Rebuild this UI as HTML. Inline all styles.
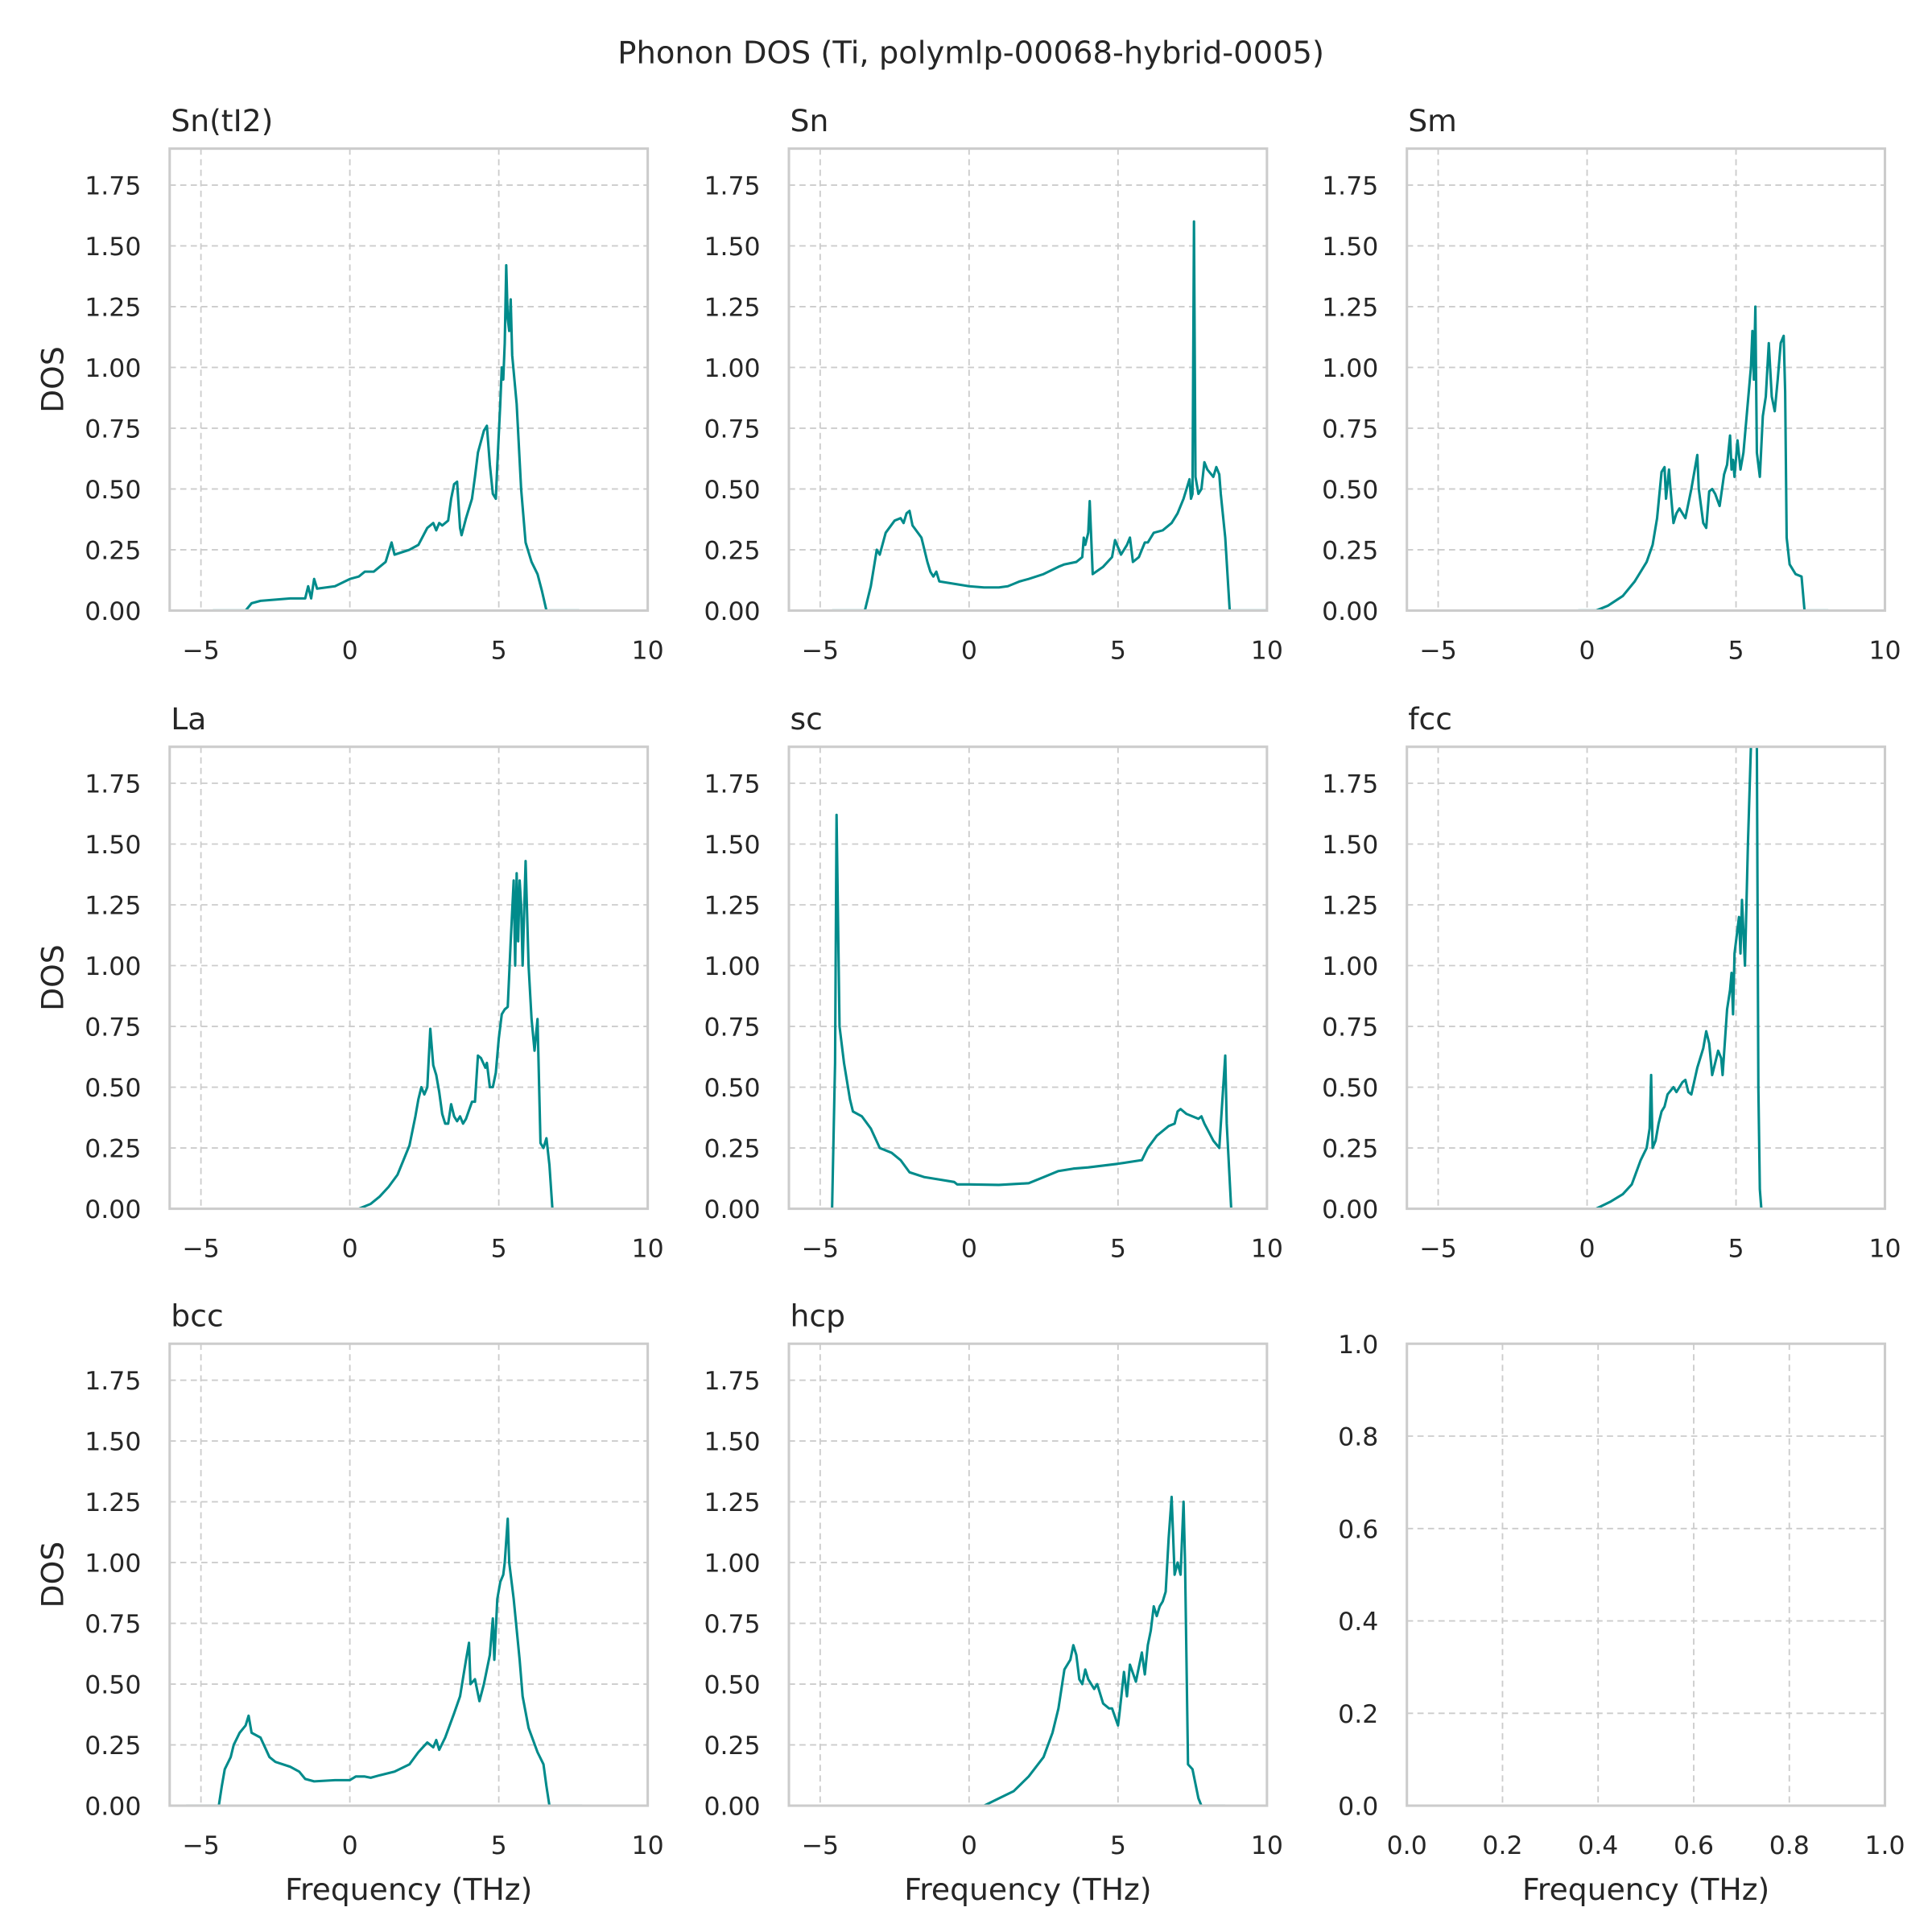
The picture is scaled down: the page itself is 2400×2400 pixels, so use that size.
<!DOCTYPE html>
<html><head><meta charset="utf-8"><style>
html,body{margin:0;padding:0;background:#fff}
svg{display:block;font-family:"DejaVu Sans","Liberation Sans",sans-serif}
</style></head><body>
<svg id="fig" width="2400" height="2400" viewBox="0 0 1560 1560" xmlns="http://www.w3.org/2000/svg">
<rect width="1560" height="1560" fill="#fff"/>
<text x="784" y="51" text-anchor="middle" font-size="25" fill="#262626">Phonon DOS (Ti, polymlp-00068-hybrid-0005)</text>
</svg>
<script>
const panelTitles = ["Sn(tI2)","Sn","Sm","La","sc","fcc","bcc","hcp"];
const xTicks = [-5,0,5,10];
const yTicks = [0,0.25,0.5,0.75,1.0,1.25,1.5,1.75];
const yTickLabels = ["0.00","0.25","0.50","0.75","1.00","1.25","1.50","1.75"];
const emptyTicks = [0,0.2,0.4,0.6,0.8,1.0];
const emptyTickLabels = ["0.0","0.2","0.4","0.6","0.8","1.0"];
const dosSnTI2 = [[-4.6,0],[-3.5,0],[-3.3,0.03],[-3,0.04],[-2.5,0.045],[-2,0.05],[-1.5,0.05],[-1.4,0.1],[-1.3,0.05],[-1.2,0.13],[-1.1,0.09],[-0.5,0.1],[0,0.13],[0.3,0.14],[0.5,0.16],[0.8,0.16],[1.2,0.2],[1.4,0.28],[1.5,0.23],[2,0.25],[2.3,0.27],[2.6,0.34],[2.8,0.36],[2.9,0.33],[3.0,0.36],[3.1,0.35],[3.3,0.37],[3.4,0.46],[3.5,0.52],[3.6,0.53],[3.7,0.34],[3.75,0.31],[3.9,0.38],[4.1,0.46],[4.2,0.55],[4.3,0.65],[4.5,0.74],[4.6,0.76],[4.7,0.6],[4.8,0.48],[4.9,0.46],[4.95,0.6],[5.05,0.85],[5.1,1.0],[5.15,0.95],[5.2,1.1],[5.25,1.42],[5.3,1.2],[5.35,1.15],[5.4,1.28],[5.45,1.05],[5.6,0.85],[5.75,0.5],[5.9,0.28],[6.1,0.2],[6.3,0.15],[6.45,0.08],[6.6,0],[7.7,0]];
const dosSn = [[-4.6,0],[-3.5,0],[-3.3,0.1],[-3.1,0.25],[-3,0.23],[-2.8,0.32],[-2.5,0.37],[-2.3,0.38],[-2.2,0.36],[-2.1,0.4],[-2,0.41],[-1.9,0.35],[-1.6,0.3],[-1.4,0.2],[-1.3,0.16],[-1.2,0.14],[-1.1,0.16],[-1,0.12],[-0.5,0.11],[0,0.1],[0.5,0.095],[1,0.095],[1.3,0.1],[1.5,0.11],[1.7,0.12],[2,0.13],[2.5,0.15],[3,0.18],[3.2,0.19],[3.6,0.2],[3.8,0.22],[3.85,0.3],[3.9,0.27],[4,0.32],[4.05,0.45],[4.15,0.15],[4.5,0.18],[4.8,0.22],[4.9,0.29],[5.1,0.23],[5.3,0.27],[5.4,0.3],[5.5,0.2],[5.7,0.22],[5.9,0.28],[6.0,0.28],[6.2,0.32],[6.5,0.33],[6.8,0.36],[7,0.4],[7.2,0.46],[7.3,0.5],[7.4,0.54],[7.45,0.46],[7.5,0.48],[7.55,1.6],[7.6,0.55],[7.7,0.48],[7.8,0.5],[7.9,0.61],[8,0.58],[8.2,0.55],[8.3,0.59],[8.4,0.56],[8.45,0.48],[8.6,0.3],[8.75,0],[10,0]];
const dosSm = [[-0.3,0],[0.3,0],[0.7,0.02],[1.2,0.06],[1.6,0.12],[2,0.2],[2.2,0.27],[2.35,0.38],[2.5,0.57],[2.6,0.59],[2.65,0.46],[2.75,0.58],[2.8,0.5],[2.9,0.36],[3,0.4],[3.1,0.42],[3.3,0.38],[3.5,0.5],[3.7,0.64],[3.75,0.5],[3.9,0.36],[4,0.34],[4.1,0.49],[4.2,0.5],[4.3,0.48],[4.45,0.43],[4.6,0.56],[4.7,0.6],[4.8,0.72],[4.85,0.58],[4.9,0.62],[4.95,0.55],[5.05,0.7],[5.15,0.58],[5.25,0.65],[5.4,0.86],[5.5,1.0],[5.55,1.15],[5.6,0.95],[5.65,1.25],[5.7,0.65],[5.8,0.55],[5.9,0.8],[6.0,0.88],[6.1,1.1],[6.2,0.88],[6.3,0.82],[6.4,0.95],[6.5,1.1],[6.6,1.13],[6.65,0.9],[6.7,0.3],[6.8,0.19],[7,0.15],[7.2,0.14],[7.3,0],[8.1,0]];
const dosLa = [[-0.3,0],[0.3,0],[0.7,0.02],[1.0,0.05],[1.3,0.09],[1.6,0.14],[1.8,0.2],[2,0.26],[2.2,0.38],[2.3,0.45],[2.4,0.5],[2.5,0.47],[2.6,0.5],[2.7,0.74],[2.8,0.59],[2.9,0.55],[3.0,0.48],[3.1,0.39],[3.2,0.35],[3.3,0.35],[3.4,0.43],[3.5,0.38],[3.6,0.36],[3.7,0.38],[3.8,0.35],[3.9,0.37],[4.1,0.44],[4.2,0.44],[4.3,0.63],[4.4,0.62],[4.55,0.58],[4.6,0.6],[4.7,0.5],[4.8,0.5],[4.9,0.56],[5.0,0.7],[5.1,0.8],[5.2,0.82],[5.3,0.83],[5.4,1.1],[5.5,1.35],[5.55,1.0],[5.6,1.38],[5.65,1.1],[5.7,1.35],[5.75,1.25],[5.8,1.0],[5.9,1.43],[6.0,1.0],[6.1,0.78],[6.2,0.65],[6.3,0.78],[6.4,0.27],[6.5,0.25],[6.6,0.29],[6.7,0.18],[6.8,0],[7.6,0]];
const dosSc = [[-6.05,0],[-4.6,0],[-4.5,0.6],[-4.45,1.62],[-4.35,0.75],[-4.2,0.6],[-4,0.45],[-3.9,0.4],[-3.6,0.38],[-3.3,0.33],[-3,0.25],[-2.6,0.23],[-2.3,0.2],[-2,0.15],[-1.5,0.13],[-1,0.12],[-0.5,0.11],[-0.4,0.1],[0,0.1],[1,0.098],[2,0.105],[2.5,0.13],[3,0.155],[3.5,0.165],[4,0.17],[5,0.185],[5.8,0.2],[6,0.25],[6.3,0.3],[6.7,0.34],[6.9,0.35],[7.0,0.4],[7.1,0.41],[7.3,0.39],[7.7,0.37],[7.8,0.38],[7.9,0.35],[8.2,0.28],[8.4,0.25],[8.6,0.63],[8.65,0.35],[8.8,0],[10,0]];
const dosFcc = [[-0.1,0],[0.3,0],[0.8,0.03],[1.2,0.06],[1.5,0.1],[1.8,0.2],[2.0,0.25],[2.1,0.33],[2.15,0.55],[2.2,0.25],[2.3,0.28],[2.4,0.35],[2.5,0.4],[2.6,0.42],[2.7,0.47],[2.9,0.5],[3.0,0.48],[3.2,0.52],[3.3,0.53],[3.4,0.48],[3.5,0.47],[3.7,0.58],[3.9,0.66],[4.0,0.73],[4.1,0.68],[4.2,0.55],[4.3,0.6],[4.4,0.65],[4.5,0.62],[4.55,0.55],[4.7,0.82],[4.8,0.9],[4.85,0.97],[4.9,0.8],[4.95,1.05],[5.1,1.2],[5.15,1.05],[5.2,1.27],[5.3,1.0],[5.4,1.5],[5.5,1.9],[5.6,1.95],[5.7,1.9],[5.75,0.5],[5.8,0.08],[5.85,0],[6.4,0]];
const dosBcc = [[-5.5,0],[-4.4,0],[-4.3,0.08],[-4.2,0.15],[-4,0.2],[-3.9,0.25],[-3.7,0.3],[-3.5,0.33],[-3.4,0.37],[-3.3,0.3],[-3.0,0.28],[-2.7,0.2],[-2.5,0.18],[-2,0.16],[-1.7,0.14],[-1.5,0.11],[-1.2,0.1],[-0.5,0.105],[0,0.105],[0.2,0.12],[0.5,0.12],[0.7,0.115],[1,0.125],[1.5,0.14],[2,0.17],[2.3,0.22],[2.6,0.26],[2.8,0.24],[2.9,0.27],[3.0,0.23],[3.2,0.28],[3.5,0.38],[3.7,0.45],[3.9,0.6],[4.0,0.67],[4.05,0.5],[4.2,0.52],[4.35,0.43],[4.5,0.5],[4.7,0.62],[4.8,0.77],[4.85,0.6],[4.95,0.85],[5.05,0.92],[5.15,0.95],[5.2,1.0],[5.3,1.18],[5.35,1.0],[5.5,0.85],[5.7,0.6],[5.8,0.45],[6,0.32],[6.3,0.22],[6.5,0.17],[6.6,0.08],[6.7,0],[7.8,0]];
const dosHcp = [[0,0],[0.5,0],[1.0,0.03],[1.5,0.06],[2.0,0.12],[2.5,0.2],[2.8,0.3],[3.0,0.4],[3.2,0.56],[3.4,0.6],[3.5,0.66],[3.6,0.62],[3.7,0.52],[3.8,0.5],[3.9,0.56],[4.0,0.52],[4.1,0.5],[4.2,0.48],[4.3,0.5],[4.5,0.42],[4.7,0.4],[4.8,0.4],[5.0,0.33],[5.05,0.38],[5.2,0.55],[5.3,0.45],[5.4,0.58],[5.6,0.51],[5.8,0.63],[5.9,0.54],[6.0,0.66],[6.1,0.72],[6.2,0.82],[6.3,0.78],[6.4,0.82],[6.5,0.84],[6.6,0.88],[6.7,1.1],[6.8,1.27],[6.9,0.95],[7.0,1.0],[7.1,0.95],[7.2,1.25],[7.25,1.0],[7.35,0.17],[7.5,0.15],[7.7,0.03],[7.8,0],[8.6,0]];
const allSeries = [dosSnTI2,dosSn,dosSm,dosLa,dosSc,dosFcc,dosBcc,dosHcp];

const NS="http://www.w3.org/2000/svg";
const svg=document.getElementById('fig');
const colX=[137,637,1136], rowY=[120,603,1085], W=386, H=373;
const XMIN=-6.05, XMAX=10, YMIN=0, YMAX=1.9;
function mk(tag,attrs,parent){const e=document.createElementNS(NS,tag);for(const k in attrs)e.setAttribute(k,attrs[k]);(parent||svg).appendChild(e);return e;}
function slug(s){return s.toLowerCase().replace(/[^a-z0-9]+/g,'-').replace(/-+$/,'');}

for(let p=0;p<9;p++){
  const c=p%3, r=Math.floor(p/3), x0=colX[c], y0=rowY[r];
  const g=mk('g',{});
  const empty = p===8;
  
  
  const xmin=empty?0:XMIN, xmax=empty?1:XMAX, ymin=empty?0:YMIN, ymax=empty?1:YMAX;
  const sx=v=>x0+(v-xmin)/(xmax-xmin)*W;
  const sy=v=>y0+H-(v-ymin)/(ymax-ymin)*H;
  const cid='clip'+p;
  const cp=mk('clipPath',{id:cid},g); mk('rect',{x:x0,y:y0,width:W,height:H},cp);
  const xt=empty?emptyTicks:xTicks, yt=empty?emptyTicks:yTicks, ytl=empty?emptyTickLabels:yTickLabels;
  xt.forEach((t,i)=>{
    const X=sx(t);
    const gl=mk('line',{x1:X,x2:X,y1:y0,y2:y0+H,stroke:'#cccccc','stroke-width':1.2,'stroke-dasharray':'5,3.5'},g);
    
    
    const tx=mk('text',{x:X,y:y0+H+39,'text-anchor':'middle','font-size':20.5,fill:'#262626'},g);
    
    
    tx.textContent=empty?emptyTickLabels[i]:(t<0?'\u2212'+Math.abs(t):String(t));
  });
  yt.forEach((t,i)=>{
    const Y=sy(t);
    const gl=mk('line',{x1:x0,x2:x0+W,y1:Y,y2:Y,stroke:'#cccccc','stroke-width':1.2,'stroke-dasharray':'5,3.5'},g);
    
    
    const ty=mk('text',{x:x0-23,y:Y+7.5,'text-anchor':'end','font-size':20.5,fill:'#262626'},g);
    
    
    ty.textContent=ytl[i];
  });
  if(!empty){
    const pts=allSeries[p].map(d=>sx(d[0]).toFixed(2)+','+sy(d[1]).toFixed(2)).join(' ');
    const pl=mk('polyline',{points:pts,fill:'none',stroke:'#008b8b','stroke-width':2,'stroke-linejoin':'round','clip-path':'url(#'+cid+')'},g);
    
    
    const tt=mk('text',{x:x0+1,y:y0-14,'font-size':24.5,fill:'#262626'},g);
    
    
    tt.textContent=panelTitles[p];
  }
  const fr=mk('rect',{x:x0,y:y0,width:W,height:H,fill:'none',stroke:'#cccccc','stroke-width':2},g);
  
  
  if(c===0 && !empty){
    const yl=mk('text',{x:0,y:0,'text-anchor':'middle','font-size':24.5,fill:'#262626',transform:'translate(51,'+(y0+H/2)+') rotate(-90)'},g);
    
    
    yl.textContent='DOS';
  }
  if(r===2){
    const xl=mk('text',{x:x0+W/2,y:y0+H+76,'text-anchor':'middle','font-size':24.5,fill:'#262626'},g);
    
    
    xl.textContent='Frequency (THz)';
  }
}
</script>
</body></html>
